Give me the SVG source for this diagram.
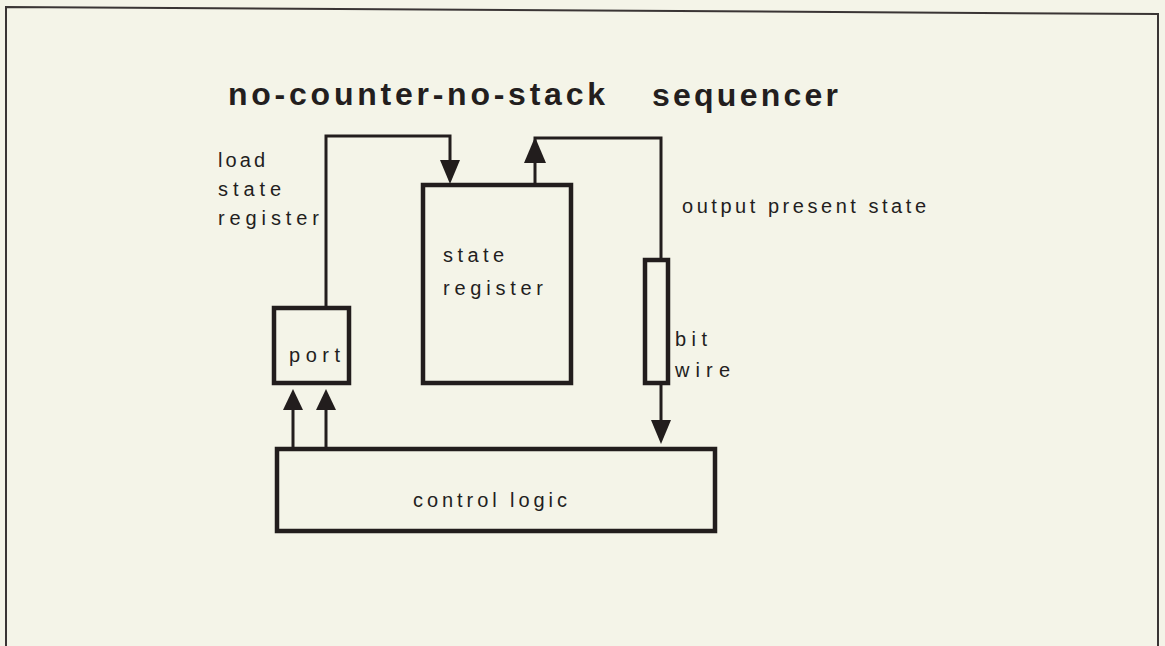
<svg xmlns="http://www.w3.org/2000/svg" width="1165" height="646" viewBox="0 0 1165 646">
  <style>
    .box { fill: none; stroke: #221d1d; stroke-width: 4.5; }
    .wire { fill: none; stroke: #221d1d; stroke-width: 3; }
    .head { fill: #221d1d; stroke: none; }
    .frame { fill: none; stroke: #3a3535; stroke-width: 2; }
    .title { font-family: "Liberation Sans", Arial, sans-serif; font-weight: bold; font-size: 32px; fill: #231e1e; }
    .lbl { font-family: "Liberation Sans", Arial, sans-serif; font-size: 20px; fill: #231e1e; }
  </style>

  <!-- paper -->
  <rect x="0" y="0" width="1165" height="646" fill="#f4f4e8"/>
  <polyline class="frame" points="6,646 6,7 1158,14 1158,646"/>

  <!-- title -->
  <g id="title">
    <text class="title" x="228" y="105" textLength="377" lengthAdjust="spacing">no-counter-no-stack</text>
    <text class="title" x="652" y="106" textLength="186" lengthAdjust="spacing">sequencer</text>
  </g>

  <!-- nodes -->
  <g id="state-register">
    <rect class="box" x="423" y="185" width="148" height="198"/>
    <text class="lbl" x="443" y="262" textLength="61" lengthAdjust="spacing">state</text>
    <text class="lbl" x="443" y="295" textLength="100" lengthAdjust="spacing">register</text>
  </g>

  <g id="port">
    <rect class="box" x="274" y="308" width="75" height="75"/>
    <text class="lbl" x="289" y="362" textLength="51" lengthAdjust="spacing">port</text>
  </g>

  <g id="bit-wire">
    <rect class="box" x="645" y="260" width="23" height="123"/>
    <text class="lbl" x="675" y="346" textLength="32" lengthAdjust="spacing">bit</text>
    <text class="lbl" x="675" y="377" textLength="55" lengthAdjust="spacing">wire</text>
  </g>

  <g id="control-logic">
    <rect class="box" x="277" y="449" width="438" height="82"/>
    <text class="lbl" x="413" y="507" textLength="154" lengthAdjust="spacing">control logic</text>
  </g>

  <!-- connectors -->
  <g id="connectors">
    <!-- load state register: port -> state register -->
    <polyline class="wire" points="326,308 326,136 450,136 450,162"/>
    <polygon class="head" points="440,160 460,160 450,184"/>

    <!-- output present state: state register -> bit wire -->
    <polyline class="wire" points="535,185 535,138 661,138 661,260"/>
    <polygon class="head" points="524,163 546,163 535,137"/>

    <!-- bit wire -> control logic -->
    <polyline class="wire" points="661,383 661,421"/>
    <polygon class="head" points="651,420 671,420 661,444"/>

    <!-- control logic -> port -->
    <polyline class="wire" points="293,449 293,408"/>
    <polygon class="head" points="283,410 303,410 293,389"/>
    <polyline class="wire" points="326,449 326,408"/>
    <polygon class="head" points="316,410 336,410 326,389"/>

    <!-- connector labels -->
    <text class="lbl" x="218" y="167" textLength="47" lengthAdjust="spacing">load</text>
    <text class="lbl" x="218" y="196" textLength="63" lengthAdjust="spacing">state</text>
    <text class="lbl" x="218" y="225" textLength="101" lengthAdjust="spacing">register</text>
    <text class="lbl" x="682" y="213" textLength="244" lengthAdjust="spacing">output present state</text>
  </g>
</svg>
